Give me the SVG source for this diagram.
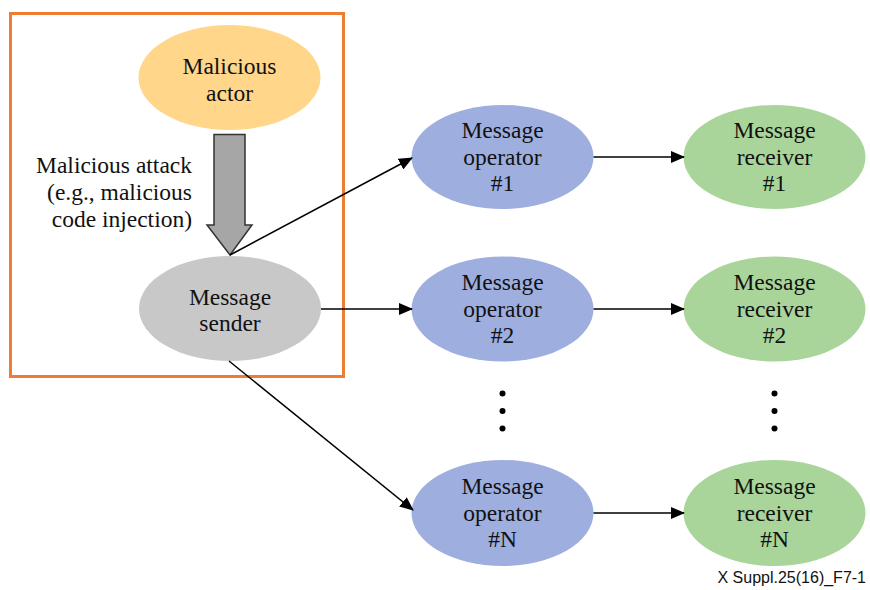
<svg xmlns="http://www.w3.org/2000/svg" width="870" height="590" viewBox="0 0 870 590">
<defs>
<marker id="ah" markerWidth="14" markerHeight="12" refX="13" refY="6" orient="auto" markerUnits="userSpaceOnUse">
<path d="M0,0 L14,6 L0,12 Z" fill="#000"/>
</marker>
</defs>
<style>
text{font-family:'Liberation Serif','Times New Roman','DejaVu Serif',serif;font-size:23.5px;fill:#111;text-anchor:middle}
.lbl{text-anchor:end}
text.foot{font-family:'Liberation Sans',Arial,sans-serif;font-size:16px;text-anchor:end}
.conn line{stroke:#000;stroke-width:1.5;fill:none}
.op{fill:#9DAEDF}
.rc{fill:#A9D59B}
.dot{fill:#000}
</style>
<rect x="10.5" y="13.5" width="333" height="363" fill="none" stroke="#ED7D31" stroke-width="3"/>
<g id="malicious-actor">
<ellipse cx="229.5" cy="77.5" rx="91" ry="52.5" fill="#FFD68A"/>
<text x="229.5" y="74">Malicious</text>
<text x="229.5" y="101">actor</text>
</g>
<g id="attack-arrow">
<path d="M214,134.5 L245,134.5 L245,225 L252,225 L230,255 L207,225 L214,225 Z" fill="#A6A6A6" stroke="#333" stroke-width="1.5"/>
<text class="lbl" x="192" y="173">Malicious attack</text>
<text class="lbl" x="192" y="200">(e.g., malicious</text>
<text class="lbl" x="192" y="227">code injection)</text>
</g>
<g id="message-sender">
<ellipse cx="230" cy="308.5" rx="91" ry="52.5" fill="#C8C8C8"/>
<text x="230" y="305">Message</text>
<text x="230" y="331">sender</text>
</g>
<g id="operator-1">
<ellipse class="op" cx="502.5" cy="157" rx="91" ry="52"/>
<text x="502.5" y="138">Message</text>
<text x="502.5" y="165">operator</text>
<text x="502.5" y="191">#1</text>
</g>
<g id="operator-2">
<ellipse class="op" cx="502.5" cy="309" rx="91" ry="52.5"/>
<text x="502.5" y="290">Message</text>
<text x="502.5" y="317">operator</text>
<text x="502.5" y="343">#2</text>
</g>
<g id="operator-n">
<ellipse class="op" cx="502.5" cy="513" rx="91" ry="53"/>
<text x="502.5" y="494">Message</text>
<text x="502.5" y="521">operator</text>
<text x="502.5" y="547">#N</text>
</g>
<g id="receiver-1">
<ellipse class="rc" cx="774.5" cy="157" rx="91" ry="52"/>
<text x="774.5" y="138">Message</text>
<text x="774.5" y="165">receiver</text>
<text x="774.5" y="191">#1</text>
</g>
<g id="receiver-2">
<ellipse class="rc" cx="774.5" cy="309" rx="91" ry="52.5"/>
<text x="774.5" y="290">Message</text>
<text x="774.5" y="317">receiver</text>
<text x="774.5" y="343">#2</text>
</g>
<g id="receiver-n">
<ellipse class="rc" cx="774.5" cy="513" rx="91" ry="53"/>
<text x="774.5" y="494">Message</text>
<text x="774.5" y="521">receiver</text>
<text x="774.5" y="547">#N</text>
</g>
<g id="ellipsis">
<circle class="dot" cx="502.5" cy="393.5" r="3"/>
<circle class="dot" cx="502.5" cy="411" r="3"/>
<circle class="dot" cx="502.5" cy="428.5" r="3"/>
<circle class="dot" cx="774.5" cy="393.5" r="3"/>
<circle class="dot" cx="774.5" cy="411" r="3"/>
<circle class="dot" cx="774.5" cy="428.5" r="3"/>
</g>
<g class="conn">
<line x1="230" y1="255" x2="412" y2="158" marker-end="url(#ah)"/>
<line x1="321" y1="309" x2="412" y2="309" marker-end="url(#ah)"/>
<line x1="229" y1="361" x2="413" y2="510" marker-end="url(#ah)"/>
<line x1="593.5" y1="157" x2="684" y2="157" marker-end="url(#ah)"/>
<line x1="593.5" y1="309" x2="684" y2="309" marker-end="url(#ah)"/>
<line x1="593.5" y1="513" x2="684" y2="513" marker-end="url(#ah)"/>
</g>
<text class="foot" x="866" y="583">X Suppl.25(16)_F7-1</text>
</svg>
